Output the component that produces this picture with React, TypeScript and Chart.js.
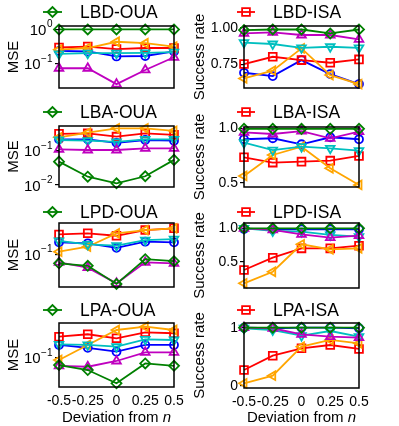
import React, { useEffect, useRef } from 'react';
import { Chart, registerables } from 'chart.js';
import { drawPoint } from 'chart.js/helpers';

Chart.register(...registerables);

const FONT = "'Liberation Sans', Arial, Helvetica, sans-serif";

// ---------- data ----------
const deviations = [-0.5, -0.25, 0, 0.25, 0.5];
const xTickLabels = ['-0.5', '-0.25', '0', '0.25', '0.5'];
const xAxisTitle = 'Deviation from ';
const xAxisTitleVar = 'n';

// LBD-OUA (MSE)
const lbdOuaGreen = [1.0, 1.0, 1.0, 1.0, 1.0];
const lbdOuaRed = [0.30, 0.32, 0.27, 0.29, 0.29];
const lbdOuaOrange = [0.26, 0.29, 0.44, 0.40, 0.32];
const lbdOuaBlue = [0.24, 0.23, 0.165, 0.17, 0.23];
const lbdOuaCyan = [0.195, 0.205, 0.205, 0.21, 0.22];
const lbdOuaMagenta = [0.075, 0.075, 0.026, 0.067, 0.156];

// LBA-OUA (MSE)
const lbaOuaGreen = [0.048, 0.0175, 0.0112, 0.018, 0.054];
const lbaOuaRed = [0.31, 0.32, 0.257, 0.32, 0.29];
const lbaOuaOrange = [0.245, 0.335, 0.45, 0.45, 0.38];
const lbaOuaBlue = [0.215, 0.215, 0.17, 0.205, 0.196];
const lbaOuaCyan = [0.205, 0.196, 0.18, 0.215, 0.215];
const lbaOuaMagenta = [0.11, 0.105, 0.105, 0.117, 0.117];

// LPD-OUA (MSE)
const lpdOuaGreen = [0.066, 0.059, 0.0255, 0.08, 0.073];
const lpdOuaRed = [0.25, 0.263, 0.235, 0.306, 0.331];
const lpdOuaOrange = [0.113, 0.142, 0.263, 0.306, 0.331];
const lpdOuaBlue = [0.174, 0.166, 0.135, 0.179, 0.174];
const lpdOuaCyan = [0.185, 0.158, 0.149, 0.193, 0.202];
const lpdOuaMagenta = [0.069, 0.054, 0.0263, 0.069, 0.066];

// LPA-OUA (MSE)
const lpaOuaGreen = [0.0714, 0.0568, 0.0308, 0.077, 0.069];
const lpaOuaRed = [0.263, 0.294, 0.244, 0.322, 0.308];
const lpaOuaOrange = [0.09, 0.18, 0.358, 0.417, 0.358];
const lpaOuaBlue = [0.18, 0.158, 0.132, 0.18, 0.18];
const lpaOuaCyan = [0.185, 0.18, 0.166, 0.233, 0.226];
const lpaOuaMagenta = [0.069, 0.066, 0.086, 0.128, 0.128];

// LBD-ISA (success rate)
const lbdIsaGreen = [0.986, 0.99, 0.99, 0.963, 0.99];
const lbdIsaRed = [0.752, 0.802, 0.779, 0.761, 0.784];
const lbdIsaOrange = [0.653, 0.706, 0.86, 0.676, 0.614];
const lbdIsaBlue = [0.692, 0.669, 0.779, 0.683, 0.614];
const lbdIsaCyan = [0.90, 0.89, 0.864, 0.871, 0.864];
const lbdIsaMagenta = [0.963, 0.97, 0.952, 0.952, 0.922];

// LBA-ISA (success rate)
const lbaIsaGreen = [0.995, 0.995, 0.995, 0.995, 0.995];
const lbaIsaRed = [0.735, 0.686, 0.695, 0.704, 0.747];
const lbaIsaOrange = [0.564, 0.756, 0.832, 0.634, 0.482];
const lbaIsaBlue = [0.9, 0.909, 0.854, 0.918, 0.9];
const lbaIsaCyan = [0.868, 0.80, 0.832, 0.817, 0.795];
const lbaIsaMagenta = [0.963, 0.948, 0.975, 0.909, 0.969];

// LPD-ISA (success rate)
const lpdIsaGreen = [1.0, 1.0, 1.0, 1.0, 1.0];
const lpdIsaRed = [0.376, 0.56, 0.70, 0.70, 0.74];
const lpdIsaOrange = [0.177, 0.35, 0.76, 0.686, 0.70];
const lpdIsaBlue = [0.99, 0.985, 0.985, 0.985, 0.985];
const lpdIsaCyan = [1.0, 0.96, 0.95, 0.90, 0.875];
const lpdIsaMagenta = [1.0, 0.975, 0.91, 0.86, 0.89];

// LPA-ISA (success rate)
const lpaIsaGreen = [1.0, 1.0, 1.0, 1.0, 1.0];
const lpaIsaRed = [0.274, 0.52, 0.647, 0.703, 0.635];
const lpaIsaOrange = [0.046, 0.177, 0.674, 0.79, 0.732];
const lpaIsaBlue = [1.0, 0.99, 1.0, 1.0, 0.99];
const lpaIsaCyan = [0.99, 0.96, 0.863, 0.943, 0.846];
const lpaIsaMagenta = [1.0, 0.99, 0.886, 0.845, 0.828];

// tick values / labels
const logTicks = [1, 0.1, 0.01];
const lbdIsaTicks = [0.75, 1.0];
const lbdIsaTickLabels = ['0.75', '1.00'];
const halfTicks = [0.5, 1.0];
const halfTickLabels = ['0.5', '1.0'];
const unitTicks = [0, 1];
const unitTickLabels = ['0', '1'];

// ---------- styles ----------
type SeriesStyle = { color: string; pointStyle: string; rotation: number; radius: number; order: number };
const seriesStyles: Record<string, SeriesStyle> = {
  green: { color: '#008000', pointStyle: 'rectRot', rotation: 0, radius: 5, order: 0 },
  magenta: { color: '#bf00bf', pointStyle: 'triangle', rotation: 0, radius: 5, order: 1 },
  cyan: { color: '#00bfbf', pointStyle: 'triangle', rotation: 180, radius: 5, order: 2 },
  orange: { color: '#ffa500', pointStyle: 'triangle', rotation: -90, radius: 5, order: 3 },
  red: { color: '#ff0000', pointStyle: 'rect', rotation: 0, radius: 5.5, order: 4 },
  blue: { color: '#0000ff', pointStyle: 'circle', rotation: 0, radius: 4, order: 5 },
};
const seriesOrder = ['green', 'red', 'orange', 'blue', 'cyan', 'magenta'];

// geometry (page px)
const cols = [
  { left: 0, width: 190, yAxisW: 59, padRight: 16, legX0: 43, legX1: 62, legText: 80, titlePad: 5 },
  { left: 185, width: 214, yAxisW: 59, padRight: 40, legX0: 237, legX1: 255, legText: 273, titlePad: 6 },
];
const rows = [
  { top: 0, height: 100, legY: 12 },
  { top: 100, height: 100, legY: 112 },
  { top: 200, height: 100, legY: 212 },
  { top: 300, height: 126, legY: 310 },
];

type PanelDef = {
  title: string; col: number; row: number; log: boolean; yMin: number; yMax: number;
  yTicks: number[]; yTickLabels?: string[]; yTitle: string; legendKey: string;
  series: Record<string, number[]>; plotTop: number; plotBottom: number;
};

const panels: PanelDef[] = [
  { title: 'LBD-OUA', col: 0, row: 0, log: true, yMin: 0.0201, yMax: 1.26, yTicks: logTicks, yTitle: 'MSE', legendKey: 'green',
    series: { green: lbdOuaGreen, red: lbdOuaRed, orange: lbdOuaOrange, blue: lbdOuaBlue, cyan: lbdOuaCyan, magenta: lbdOuaMagenta }, plotTop: 26, plotBottom: 88 },
  { title: 'LBD-ISA', col: 1, row: 0, log: false, yMin: 0.587, yMax: 1.014, yTicks: lbdIsaTicks, yTickLabels: lbdIsaTickLabels, yTitle: 'Success rate', legendKey: 'red',
    series: { green: lbdIsaGreen, red: lbdIsaRed, orange: lbdIsaOrange, blue: lbdIsaBlue, cyan: lbdIsaCyan, magenta: lbdIsaMagenta }, plotTop: 26, plotBottom: 88 },
  { title: 'LBA-OUA', col: 0, row: 1, log: true, yMin: 0.00875, yMax: 0.525, yTicks: logTicks, yTitle: 'MSE', legendKey: 'green',
    series: { green: lbaOuaGreen, red: lbaOuaRed, orange: lbaOuaOrange, blue: lbaOuaBlue, cyan: lbaOuaCyan, magenta: lbaOuaMagenta }, plotTop: 126, plotBottom: 187 },
  { title: 'LBA-ISA', col: 1, row: 1, log: false, yMin: 0.463, yMax: 1.012, yTicks: halfTicks, yTickLabels: halfTickLabels, yTitle: 'Success rate', legendKey: 'red',
    series: { green: lbaIsaGreen, red: lbaIsaRed, orange: lbaIsaOrange, blue: lbaIsaBlue, cyan: lbaIsaCyan, magenta: lbaIsaMagenta }, plotTop: 127, plotBottom: 187 },
  { title: 'LPD-OUA', col: 0, row: 2, log: true, yMin: 0.0222, yMax: 0.423, yTicks: logTicks, yTitle: 'MSE', legendKey: 'green',
    series: { green: lpdOuaGreen, red: lpdOuaRed, orange: lpdOuaOrange, blue: lpdOuaBlue, cyan: lpdOuaCyan, magenta: lpdOuaMagenta }, plotTop: 223, plotBottom: 287 },
  { title: 'LPD-ISA', col: 1, row: 2, log: false, yMin: 0.107, yMax: 1.079, yTicks: halfTicks, yTickLabels: halfTickLabels, yTitle: 'Success rate', legendKey: 'red',
    series: { green: lpdIsaGreen, red: lpdIsaRed, orange: lpdIsaOrange, blue: lpdIsaBlue, cyan: lpdIsaCyan, magenta: lpdIsaMagenta }, plotTop: 223, plotBottom: 288 },
  { title: 'LPA-OUA', col: 0, row: 3, log: true, yMin: 0.026, yMax: 0.494, yTicks: logTicks, yTitle: 'MSE', legendKey: 'green',
    series: { green: lpaOuaGreen, red: lpaOuaRed, orange: lpaOuaOrange, blue: lpaOuaBlue, cyan: lpaOuaCyan, magenta: lpaOuaMagenta }, plotTop: 323, plotBottom: 387 },
  { title: 'LPA-ISA', col: 1, row: 3, log: false, yMin: -0.034, yMax: 1.08, yTicks: unitTicks, yTickLabels: unitTickLabels, yTitle: 'Success rate', legendKey: 'red',
    series: { green: lpaIsaGreen, red: lpaIsaRed, orange: lpaIsaOrange, blue: lpaIsaBlue, cyan: lpaIsaCyan, magenta: lpaIsaMagenta }, plotTop: 323, plotBottom: 388 },
];

const LINE_W = 1.8;

function Panel({ p }: { p: PanelDef }) {
  const ref = useRef<HTMLCanvasElement | null>(null);
  const col = cols[p.col];
  const row = rows[p.row];
  const isBottom = p.row === rows.length - 1;
  const padTop = p.plotTop - row.top;
  const xAxisH = row.top + row.height - p.plotBottom;

  useEffect(() => {
    if (!ref.current) return;
    const ticksInRange = p.yTicks.filter((v) => v >= p.yMin && v <= p.yMax);

    const datasets = seriesOrder.map((key) => {
      const s = seriesStyles[key];
      const arr = p.series[key];
      return {
        label: key === p.legendKey ? p.title : key,
        data: deviations.map((x, i) => ({ x, y: arr[i] })),
        borderColor: s.color,
        backgroundColor: 'rgba(0,0,0,0)',
        borderWidth: LINE_W,
        pointStyle: s.pointStyle,
        rotation: s.rotation,
        pointRotation: s.rotation,
        pointRadius: s.radius,
        pointBorderWidth: LINE_W,
        pointBorderColor: s.color,
        pointBackgroundColor: 'rgba(0,0,0,0)',
        tension: 0,
        clip: false,
        order: s.order,
      };
    });

    const overlay = {
      id: 'overlay',
      afterDatasetsDraw(chart: any) {
        const { ctx, chartArea } = chart;
        ctx.save();
        // frame
        ctx.strokeStyle = '#000';
        ctx.lineWidth = 1.5;
        ctx.strokeRect(chartArea.left, chartArea.top, chartArea.right - chartArea.left, chartArea.bottom - chartArea.top);

        // log tick labels with superscript exponents
        if (p.log) {
          const ys = chart.scales.y;
          const xr = chartArea.left - 6.5;
          ctx.fillStyle = '#000';
          ctx.textAlign = 'right';
          ctx.textBaseline = 'alphabetic';
          for (const v of ticksInRange) {
            const py = ys.getPixelForValue(v);
            const e = Math.round(Math.log10(v));
            const expStr = e < 0 ? '\u2212' + String(-e) : String(e);
            ctx.font = `10px ${FONT}`;
            const ew = ctx.measureText(expStr).width;
            ctx.fillText(expStr, xr, py + 5 - 7);
            ctx.font = `15px ${FONT}`;
            ctx.fillText('10', xr - ew - 0.5, py + 5.5);
          }
        }

        // legend
        const ls = seriesStyles[p.legendKey];
        const ly = row.legY - row.top;
        const lx0 = col.legX0 - col.left;
        const lx1 = col.legX1 - col.left;
        ctx.strokeStyle = ls.color;
        ctx.lineWidth = LINE_W;
        ctx.beginPath();
        ctx.moveTo(lx0, ly);
        ctx.lineTo(lx1, ly);
        ctx.stroke();
        ctx.fillStyle = 'rgba(0,0,0,0)';
        drawPoint(ctx, { pointStyle: ls.pointStyle, rotation: ls.rotation, radius: ls.radius, borderWidth: LINE_W } as any, (lx0 + lx1) / 2, ly);
        ctx.fillStyle = '#000';
        ctx.font = `17.5px ${FONT}`;
        ctx.textAlign = 'left';
        ctx.textBaseline = 'middle';
        ctx.fillText(p.title, col.legText - col.left, ly + 1);

        // x axis title (bottom row)
        if (isBottom) {
          ctx.font = `15px ${FONT}`;
          const w1 = ctx.measureText(xAxisTitle).width;
          ctx.font = `italic 15px ${FONT}`;
          const w2 = ctx.measureText(xAxisTitleVar).width;
          const cx = (chartArea.left + chartArea.right) / 2;
          const x0 = cx - (w1 + w2) / 2;
          const by = 421.5 - row.top;
          ctx.textAlign = 'left';
          ctx.textBaseline = 'alphabetic';
          ctx.font = `15px ${FONT}`;
          ctx.fillText(xAxisTitle, x0, by);
          ctx.font = `italic 15px ${FONT}`;
          ctx.fillText(xAxisTitleVar, x0 + w1, by);
        }
        ctx.restore();
      },
    };

    const chart = new Chart(ref.current, {
      type: 'line',
      data: { datasets: datasets as any },
      options: {
        responsive: false,
        animation: false,
        devicePixelRatio: 1,
        events: [],
        layout: { padding: { top: padTop, right: col.padRight, left: 0, bottom: 0 } },
        plugins: { legend: { display: false }, tooltip: { enabled: false }, title: { display: false } },
        scales: {
          x: {
            type: 'linear',
            min: -0.5,
            max: 0.5,
            afterBuildTicks: (s: any) => { s.ticks = deviations.map((v) => ({ value: v })); },
            afterFit: (s: any) => { s.height = xAxisH; },
            grid: { display: false, drawTicks: false },
            border: { display: false },
            ticks: {
              display: isBottom,
              autoSkip: false,
              maxRotation: 0,
              padding: 6,
              color: '#000',
              font: { family: FONT, size: 14 },
              callback: (v: any) => {
                const i = deviations.indexOf(Number(v));
                return i >= 0 ? xTickLabels[i] : '';
              },
            },
          },
          y: {
            type: p.log ? 'logarithmic' : 'linear',
            min: p.yMin,
            max: p.yMax,
            afterBuildTicks: (s: any) => { s.ticks = ticksInRange.map((v) => ({ value: v })); },
            afterFit: (s: any) => { s.width = col.yAxisW; },
            grid: { display: true, drawOnChartArea: false, drawTicks: true, tickLength: 4, color: '#000', lineWidth: 1.2 },
            border: { display: false },
            title: {
              display: true,
              text: p.yTitle,
              color: '#000',
              font: { family: FONT, size: 15 },
              padding: { top: col.titlePad, bottom: 0 },
            },
            ticks: {
              display: !p.log,
              autoSkip: false,
              padding: 2,
              color: '#000',
              font: { family: FONT, size: 14 },
              callback: (v: any) => {
                const i = p.yTicks.indexOf(Number(v));
                return i >= 0 && p.yTickLabels ? p.yTickLabels[i] : '';
              },
            },
          },
        },
      } as any,
      plugins: [overlay],
    });
    return () => chart.destroy();
  }, []);

  return (
    <canvas
      ref={ref}
      width={col.width}
      height={row.height}
      style={{ position: 'absolute', left: col.left, top: row.top, width: col.width, height: row.height }}
    />
  );
}

export default function App() {
  return (
    <div style={{ position: 'absolute', left: 0, top: 0, width: 399, height: 426, background: '#fff', overflow: 'hidden' }}>
      {panels.map((p) => (
        <Panel key={p.title} p={p} />
      ))}
    </div>
  );
}
